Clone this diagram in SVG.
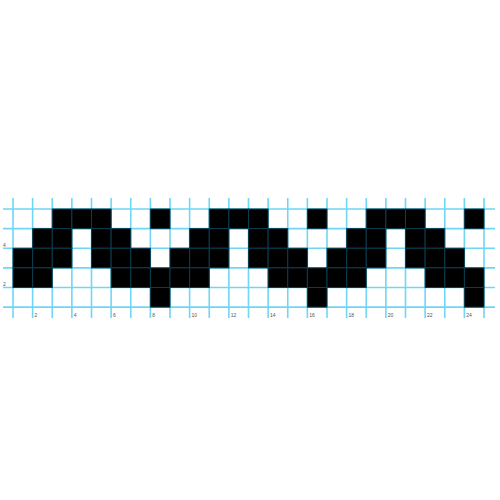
<svg xmlns="http://www.w3.org/2000/svg" xmlns:xlink="http://www.w3.org/1999/xlink" width="500" height="500" viewBox="0 0 500 500">
<style>
.g{stroke:#6fd6f6;stroke-width:1.6;fill:none}
.c{fill:#000;stroke:#0b3d4f;stroke-width:1}
.t{font-family:"Liberation Sans",Arial,sans-serif;font-size:5px;fill:#555}
</style>
<defs>
<g id="period">
<rect class="c" x="39.25" y="0" width="19.625" height="19.625"/>
<rect class="c" x="58.875" y="0" width="19.625" height="19.625"/>
<rect class="c" x="78.5" y="0" width="19.625" height="19.625"/>
<rect class="c" x="137.375" y="0" width="19.625" height="19.625"/>
<rect class="c" x="19.625" y="19.625" width="19.625" height="19.625"/>
<rect class="c" x="39.25" y="19.625" width="19.625" height="19.625"/>
<rect class="c" x="78.5" y="19.625" width="19.625" height="19.625"/>
<rect class="c" x="98.125" y="19.625" width="19.625" height="19.625"/>
<rect class="c" x="0" y="39.25" width="19.625" height="19.625"/>
<rect class="c" x="19.625" y="39.25" width="19.625" height="19.625"/>
<rect class="c" x="39.25" y="39.25" width="19.625" height="19.625"/>
<rect class="c" x="78.5" y="39.25" width="19.625" height="19.625"/>
<rect class="c" x="98.125" y="39.25" width="19.625" height="19.625"/>
<rect class="c" x="117.75" y="39.25" width="19.625" height="19.625"/>
<rect class="c" x="0" y="58.875" width="19.625" height="19.625"/>
<rect class="c" x="19.625" y="58.875" width="19.625" height="19.625"/>
<rect class="c" x="98.125" y="58.875" width="19.625" height="19.625"/>
<rect class="c" x="117.75" y="58.875" width="19.625" height="19.625"/>
<rect class="c" x="137.375" y="58.875" width="19.625" height="19.625"/>
<rect class="c" x="137.375" y="78.5" width="19.625" height="19.625"/>
</g>
</defs>
<rect width="500" height="500" fill="#fff"/>
<g id="grid">
<path class="g" d="M13 198V318M32.625 198V318M52.25 198V318M71.875 198V318M91.5 198V318M111.125 198V318M130.75 198V318M150.375 198V318M170 198V318M189.625 198V318M209.25 198V318M228.875 198V318M248.5 198V318M268.125 198V318M287.75 198V318M307.375 198V318M327 198V318M346.625 198V318M366.25 198V318M385.875 198V318M405.5 198V318M425.125 198V318M444.75 198V318M464.375 198V318M484 198V318"/>
<path class="g" d="M3 209H495M3 228.625H495M3 248.25H495M3 267.875H495M3 287.5H495M3 307.125H495"/>
</g>
<g id="cells">
<use xlink:href="#period" transform="translate(13,209)"/>
<use xlink:href="#period" transform="translate(170,209)"/>
<use xlink:href="#period" transform="translate(327,209)"/>
</g>
<g id="labels" class="t">
<text x="3" y="246.5">4</text>
<text x="3" y="285.8">2</text>
<text x="34.5" y="317">2</text>
<text x="73.8" y="317">4</text>
<text x="113" y="317">6</text>
<text x="152.3" y="317">8</text>
<text x="191.5" y="317">10</text>
<text x="230.8" y="317">12</text>
<text x="270" y="317">14</text>
<text x="309.3" y="317">16</text>
<text x="348.5" y="317">18</text>
<text x="387.8" y="317">20</text>
<text x="427" y="317">22</text>
<text x="466.3" y="317">24</text>
</g>
</svg>
